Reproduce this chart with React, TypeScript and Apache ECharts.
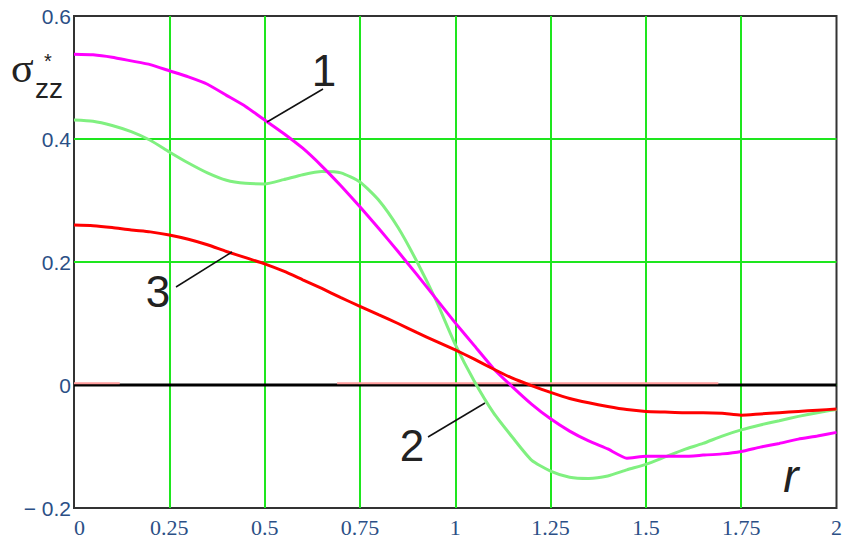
import React, { useEffect, useRef } from "react";
import * as echarts from "echarts";

// radial coordinate r
const R = [
  0, 0.05, 0.1, 0.15, 0.2, 0.25, 0.3, 0.35, 0.4, 0.45, 0.5, 0.55, 0.6, 0.65, 0.7, 0.75, 0.8, 0.85, 0.9, 0.95,
  1.0, 1.05, 1.1, 1.15, 1.2, 1.25, 1.3, 1.35, 1.4, 1.45, 1.5, 1.55, 1.6, 1.65, 1.7, 1.75, 1.8, 1.85, 1.9, 1.95, 2.0,
];
// curve 1 (magenta)
const CURVE1 = [
  0.538, 0.537, 0.533, 0.527, 0.521, 0.511, 0.501, 0.489, 0.471, 0.453, 0.431, 0.409, 0.385, 0.356, 0.324, 0.29,
  0.254, 0.217, 0.179, 0.14, 0.101, 0.064, 0.027, -0.003, -0.031, -0.055, -0.075, -0.091, -0.104, -0.119, -0.116,
  -0.116, -0.116, -0.114, -0.112, -0.108, -0.101, -0.095, -0.088, -0.083, -0.077,
];
// curve 2 (light green)
const CURVE2 = [
  0.431, 0.429, 0.422, 0.412, 0.398, 0.379, 0.361, 0.345, 0.333, 0.328, 0.327, 0.334, 0.342, 0.347, 0.345, 0.33,
  0.3, 0.256, 0.2, 0.137, 0.066, 0.006, -0.045, -0.085, -0.122, -0.14, -0.15, -0.152, -0.148, -0.138, -0.129,
  -0.117, -0.105, -0.095, -0.083, -0.073, -0.065, -0.058, -0.051, -0.045, -0.04,
];
// curve 3 (red)
const CURVE3 = [
  0.26, 0.259, 0.256, 0.252, 0.249, 0.244, 0.237, 0.228, 0.217, 0.207, 0.197, 0.185, 0.171, 0.157, 0.142, 0.128,
  0.114, 0.1, 0.085, 0.071, 0.057, 0.042, 0.026, 0.011, -0.001, -0.012, -0.022, -0.029, -0.035, -0.04, -0.043,
  -0.044, -0.045, -0.045, -0.046, -0.049, -0.047, -0.045, -0.043, -0.041, -0.039,
];
// faint pink segments lying just above zero: [start r, end r]
const PINK_SEGMENTS = [
  [0, 0.12],
  [0.69, 1.69],
];
const PINK_LEVEL = 0.003;
const ZERO_LINE = [0, 2];

const X_MIN = 0;
const X_MAX = 2;
const X_STEP = 0.25;
const Y_MIN = -0.2;
const Y_MAX = 0.6;
const Y_STEP = 0.2;

const SANS = 'Arial, "Liberation Sans", sans-serif';
const SERIF = '"Times New Roman", "Liberation Serif", serif';
const GRID_GREEN = "#1ee61e";
const LABEL_COLOR = "#2b4f86";

export default function App() {
  const ref = useRef<HTMLDivElement>(null);

  useEffect(() => {
    if (!ref.current) return;
    const chart = echarts.init(ref.current, null, { renderer: "svg" });

    const zip = (ys: number[]) => R.map((r, i) => [r, ys[i]]);

    const pinkSeries = PINK_SEGMENTS.map((seg) => ({
      type: "line",
      data: [
        [seg[0], PINK_LEVEL],
        [seg[1], PINK_LEVEL],
      ],
      symbol: "none",
      lineStyle: { color: "#ff9c9c", width: 2 },
      z: 3,
    }));

    const option: any = {
      animation: false,
      backgroundColor: "#ffffff",
      grid: {
        left: 74,
        right: 7,
        top: 16,
        bottom: 32,
        show: true,
        borderColor: "#333333",
        borderWidth: 2,
        backgroundColor: "#ffffff",
      },
      xAxis: {
        type: "value",
        min: X_MIN,
        max: X_MAX,
        interval: X_STEP,
        axisLine: { show: false },
        axisTick: { show: false },
        splitLine: {
          show: true,
          showMinLine: false,
          showMaxLine: false,
          lineStyle: { color: GRID_GREEN, width: 2 },
        },
        axisLabel: {
          fontFamily: SERIF,
          fontSize: 22,
          color: LABEL_COLOR,
          margin: 8,
          alignMinLabel: "left",
          formatter: (v: number) => String(v),
        },
      },
      yAxis: {
        type: "value",
        min: Y_MIN,
        max: Y_MAX,
        interval: Y_STEP,
        axisLine: { show: false },
        axisTick: { show: false },
        splitLine: {
          show: true,
          showMinLine: false,
          showMaxLine: false,
          lineStyle: { color: GRID_GREEN, width: 2 },
        },
        axisLabel: {
          fontFamily: SANS,
          fontSize: 21,
          color: LABEL_COLOR,
          margin: 3,
          padding: [8, 0, 0, 0],
          formatter: (v: number) => {
            const r = Math.round(v * 10) / 10;
            if (r < 0) return "\u2212 " + String(Math.abs(r));
            return String(r);
          },
        },
      },
      series: [
        {
          type: "line",
          data: ZERO_LINE.map((x) => [x, 0]),
          symbol: "none",
          lineStyle: { color: "#000000", width: 3 },
          z: 2,
        },
        ...pinkSeries,
        {
          type: "line",
          data: zip(CURVE2),
          symbol: "none",
          smooth: 0.2,
          lineStyle: { color: "#80f080", width: 3 },
          z: 4,
        },
        {
          type: "line",
          data: zip(CURVE1),
          symbol: "none",
          smooth: 0.15,
          lineStyle: { color: "#ff00ff", width: 3 },
          z: 5,
        },
        {
          type: "line",
          data: zip(CURVE3),
          symbol: "none",
          smooth: 0.2,
          lineStyle: { color: "#ff0000", width: 3 },
          z: 6,
        },
      ],
      graphic: [
        // y-axis title sigma*_zz
        {
          type: "text",
          x: 11,
          y: 68,
          style: { text: "σ", font: `42px ${SERIF}`, fill: "#222222", verticalAlign: "middle", align: "left" },
        },
        {
          type: "text",
          x: 44,
          y: 61,
          style: { text: "*", font: `20px ${SANS}`, fill: "#222222", verticalAlign: "middle", align: "left" },
        },
        {
          type: "text",
          x: 35,
          y: 88,
          style: { text: "zz", font: `28px ${SANS}`, fill: "#222222", verticalAlign: "middle", align: "left" },
        },
        // x-axis title r
        {
          type: "text",
          x: 791,
          y: 476,
          style: {
            text: "r",
            font: `italic 46px ${SANS}`,
            fill: "#222222",
            verticalAlign: "middle",
            align: "center",
          },
        },
        // curve labels with leader lines
        { type: "line", shape: { x1: 267, y1: 122, x2: 323, y2: 89 }, style: { stroke: "#111", lineWidth: 1.5 }, z: 10 },
        {
          type: "text",
          x: 324,
          y: 70,
          style: { text: "1", font: `44px ${SANS}`, fill: "#222222", verticalAlign: "middle", align: "center" },
          z: 10,
        },
        { type: "line", shape: { x1: 428, y1: 437, x2: 485, y2: 403 }, style: { stroke: "#111", lineWidth: 1.5 }, z: 10 },
        {
          type: "text",
          x: 412,
          y: 445,
          style: { text: "2", font: `44px ${SANS}`, fill: "#222222", verticalAlign: "middle", align: "center" },
          z: 10,
        },
        { type: "line", shape: { x1: 176, y1: 287, x2: 232, y2: 252 }, style: { stroke: "#111", lineWidth: 1.5 }, z: 10 },
        {
          type: "text",
          x: 158,
          y: 291,
          style: { text: "3", font: `44px ${SANS}`, fill: "#222222", verticalAlign: "middle", align: "center" },
          z: 10,
        },
      ],
    };

    chart.setOption(option);
    return () => chart.dispose();
  }, []);

  return (
    <div
      ref={ref}
      style={{ position: "fixed", left: 0, top: 0, width: 845, height: 540, background: "#fff" }}
    />
  );
}
